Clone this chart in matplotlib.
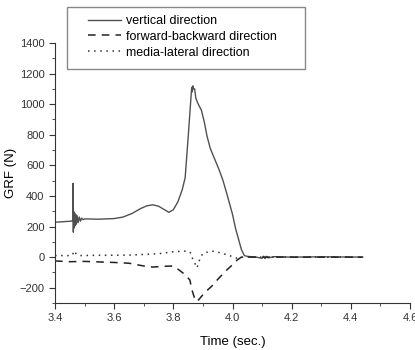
import matplotlib
matplotlib.use('Agg')
import matplotlib.pyplot as plt
from matplotlib.ticker import MultipleLocator
from matplotlib.patches import Rectangle

plt.rcParams['font.family'] = ['Liberation Sans', 'DejaVu Sans']

# vertical GRF
t_vert = [3.40, 3.43, 3.455, 3.460, 3.461, 3.462, 3.463, 3.464, 3.466, 3.468, 3.470,
          3.472, 3.475, 3.478, 3.482, 3.486, 3.49, 3.495, 3.50, 3.55, 3.60, 3.63, 3.66,
          3.69, 3.71, 3.73, 3.75, 3.77, 3.785, 3.80, 3.815, 3.83, 3.84, 3.85, 3.858,
          3.862, 3.864, 3.866, 3.868, 3.872, 3.876, 3.883, 3.895, 3.905, 3.914, 3.925,
          3.94, 3.955, 3.968, 3.98, 3.99, 4.0, 4.01, 4.02, 4.03, 4.04, 4.05, 4.08, 4.1,
          4.105, 4.11, 4.115, 4.12, 4.14, 4.2, 4.3, 4.44]
f_vert = [228, 232, 235, 240, 482, 163, 300, 190, 290, 205, 280,
          215, 270, 225, 262, 235, 255, 245, 250, 248, 252, 262, 285,
          318, 335, 342, 333, 310, 293, 310, 360, 440, 520, 780, 1000,
          1110, 1080, 1120, 1100, 1100, 1040, 1005, 960, 880, 790, 710,
          640, 570, 500, 420, 350, 280, 190, 120, 50, 10, 5, 0, -8,
          6, -10, 5, -5, 3, 0, 2, 0]

# forward-backward GRF
t_fb = [3.40, 3.45, 3.5, 3.6, 3.65, 3.7, 3.73, 3.77, 3.8, 3.82, 3.84, 3.856, 3.863,
        3.872, 3.877, 3.885, 3.907, 3.93, 3.948, 3.965, 3.98, 4.0, 4.015, 4.03, 4.44]
f_fb = [-25, -30, -28, -35, -40, -58, -65, -60, -58, -85, -115, -150, -215,
        -270, -290, -280, -230, -190, -150, -115, -85, -50, -20, 0, 0]

# media-lateral GRF
t_ml = [3.40, 3.45, 3.46, 3.462, 3.465, 3.47, 3.48, 3.55, 3.65, 3.75, 3.80, 3.85,
        3.86, 3.865, 3.875, 3.88, 3.89, 3.9, 3.93, 3.96, 3.99, 4.015, 4.03, 4.44]
f_ml = [10, 10, 15, 35, 20, 25, 10, 12, 13, 22, 35, 40,
        25, -10, -50, -70, -10, 25, 40, 28, 10, -7, 0, 0]

W, H = 415, 350
fig = plt.figure(figsize=(W / 100, H / 100), dpi=100)
ax = fig.add_axes([55 / W, 1 - 303 / H, 355 / W, 260 / H])

l1, = ax.plot(t_vert, f_vert, color='#505050', lw=1.0, label='vertical direction')
l2, = ax.plot(t_fb, f_fb, color='#222222', lw=1.1, ls=(0, (5, 4)),
              label='forward-backward direction')
l3, = ax.plot(t_ml, f_ml, color='#333333', lw=1.1, ls=(0, (1, 3)),
              label='media-lateral direction')

ax.set_xlim(3.4, 4.6)
ax.set_ylim(-300, 1400)
ax.xaxis.set_major_locator(MultipleLocator(0.2))
ax.xaxis.set_minor_locator(MultipleLocator(0.1))
ax.yaxis.set_major_locator(MultipleLocator(200))
ax.yaxis.set_minor_locator(MultipleLocator(100))
ax.spines['top'].set_visible(False)
ax.spines['right'].set_visible(False)
for s in ('left', 'bottom'):
    ax.spines[s].set_color('#333333')
ax.tick_params(which='major', direction='out', length=4, labelsize=8, colors='#333333')
ax.tick_params(which='minor', direction='out', length=2, colors='#333333')
ax.set_xlabel('Time (sec.)', fontsize=9.5, labelpad=9)
ax.set_ylabel('GRF (N)', fontsize=9.5, labelpad=2)

# legend box drawn separately
fig.patches.append(Rectangle((67 / W, 1 - 69 / H), 238 / W, 62 / H,
                             transform=fig.transFigure, fill=False,
                             edgecolor='#888888', lw=1.0))
fig.legend(handles=[l1, l2, l3], loc='upper left', bbox_to_anchor=(88 / W, 1 - 15 / H),
           fontsize=9, frameon=False, handlelength=2.6, handletextpad=0.4,
           labelspacing=0.3, borderpad=0, borderaxespad=0)

fig.savefig('out.png', dpi=100)
